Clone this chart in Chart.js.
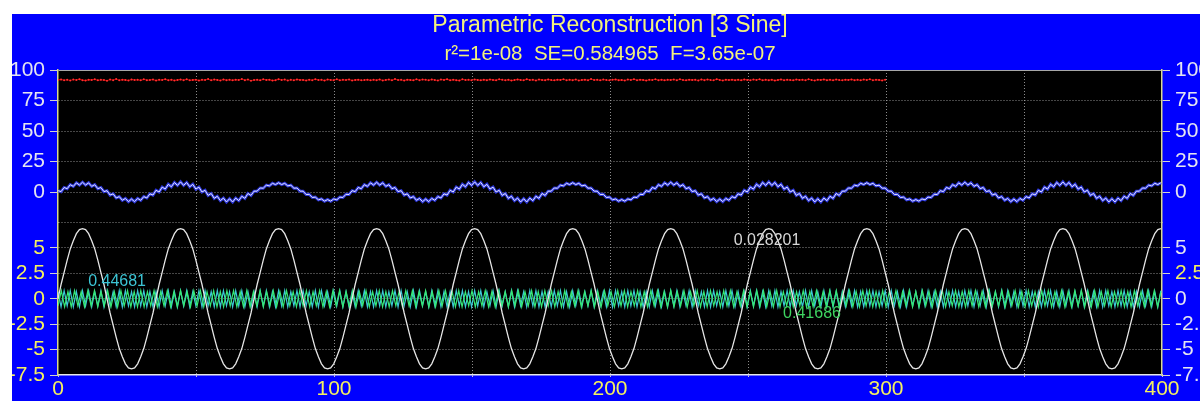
<!DOCTYPE html>
<html>
<head>
<meta charset="utf-8">
<script src="https://cdn.jsdelivr.net/npm/chart.js@4.4.1/dist/chart.umd.min.js"></script>
<style>
  html, body { margin: 0; padding: 0; background: #fff; }
  #panel { position: absolute; left: 12px; top: 14px; width: 1188px; height: 387px; background: #0000ff; }
  canvas { display: block; }
</style>
</head>
<body>
<div id="panel"><canvas id="recon" width="1188" height="387"></canvas></div>
<script>
// sample positions (x) for the slow series and the cyan component
const tA = [
  0,1.11,2.22,3.33,4.44,5.55,6.66,7.77,8.88,9.99,
  11.1,12.21,13.32,14.43,15.54,16.65,17.76,18.87,19.98,21.09,
  22.2,23.31,24.42,25.53,26.64,27.75,28.86,29.97,31.08,32.19,
  33.3,34.41,35.52,36.63,37.74,38.85,39.96,41.07,42.18,43.29,
  44.4,45.51,46.62,47.73,48.84,49.95,51.06,52.17,53.28,54.39,
  55.5,56.61,57.72,58.83,59.94,61.05,62.16,63.27,64.38,65.49,
  66.6,67.71,68.82,69.93,71.04,72.15,73.26,74.37,75.48,76.59,
  77.7,78.81,79.92,81.03,82.14,83.25,84.36,85.47,86.58,87.69,
  88.8,89.91,91.02,92.13,93.24,94.35,95.46,96.57,97.68,98.79,
  99.9,101.01,102.12,103.23,104.34,105.45,106.56,107.67,108.78,109.89,
  111,112.11,113.22,114.33,115.44,116.55,117.66,118.77,119.88,120.99,
  122.1,123.21,124.32,125.43,126.54,127.65,128.76,129.87,130.98,132.09,
  133.2,134.31,135.42,136.53,137.64,138.75,139.86,140.97,142.08,143.19,
  144.3,145.41,146.52,147.63,148.74,149.85,150.96,152.07,153.18,154.29,
  155.4,156.51,157.62,158.73,159.84,160.95,162.06,163.17,164.28,165.39,
  166.5,167.61,168.72,169.83,170.94,172.05,173.16,174.27,175.38,176.49,
  177.6,178.71,179.82,180.93,182.04,183.15,184.26,185.37,186.48,187.59,
  188.7,189.81,190.92,192.03,193.14,194.25,195.36,196.47,197.58,198.69,
  199.8,200.91,202.02,203.13,204.24,205.35,206.46,207.57,208.68,209.79,
  210.9,212.01,213.12,214.23,215.34,216.45,217.56,218.67,219.78,220.89,
  222,223.11,224.22,225.33,226.44,227.55,228.66,229.77,230.88,231.99,
  233.1,234.21,235.32,236.43,237.54,238.65,239.76,240.87,241.98,243.09,
  244.2,245.31,246.42,247.53,248.64,249.75,250.86,251.97,253.08,254.19,
  255.3,256.41,257.52,258.63,259.74,260.85,261.96,263.07,264.18,265.29,
  266.4,267.51,268.62,269.73,270.84,271.95,273.06,274.17,275.28,276.39,
  277.5,278.61,279.72,280.83,281.94,283.05,284.16,285.27,286.38,287.49,
  288.6,289.71,290.82,291.93,293.04,294.15,295.26,296.37,297.48,298.59,
  299.7,300.81,301.92,303.03,304.14,305.25,306.36,307.47,308.58,309.69,
  310.8,311.91,313.02,314.13,315.24,316.35,317.46,318.57,319.68,320.79,
  321.9,323.01,324.12,325.23,326.34,327.45,328.56,329.67,330.78,331.89,
  333,334.11,335.22,336.33,337.44,338.55,339.66,340.77,341.88,342.99,
  344.1,345.21,346.32,347.43,348.54,349.65,350.76,351.87,352.98,354.09,
  355.2,356.31,357.42,358.53,359.64,360.75,361.86,362.97,364.08,365.19,
  366.3,367.41,368.52,369.63,370.74,371.85,372.96,374.07,375.18,376.29,
  377.4,378.51,379.62,380.73,381.84,382.95,384.06,385.17,386.28,387.39,
  388.5,389.61,390.72,391.83,392.94,394.05,395.16,396.27,397.38,398.49,
  399.6
];

// sample positions (x) for the green component
const tB = [
  0,1.2,2.4,3.6,4.8,6,7.2,8.4,9.6,10.8,
  12,13.2,14.4,15.6,16.8,18,19.2,20.4,21.6,22.8,
  24,25.2,26.4,27.6,28.8,30,31.2,32.4,33.6,34.8,
  36,37.2,38.4,39.6,40.8,42,43.2,44.4,45.6,46.8,
  48,49.2,50.4,51.6,52.8,54,55.2,56.4,57.6,58.8,
  60,61.2,62.4,63.6,64.8,66,67.2,68.4,69.6,70.8,
  72,73.2,74.4,75.6,76.8,78,79.2,80.4,81.6,82.8,
  84,85.2,86.4,87.6,88.8,90,91.2,92.4,93.6,94.8,
  96,97.2,98.4,99.6,100.8,102,103.2,104.4,105.6,106.8,
  108,109.2,110.4,111.6,112.8,114,115.2,116.4,117.6,118.8,
  120,121.2,122.4,123.6,124.8,126,127.2,128.4,129.6,130.8,
  132,133.2,134.4,135.6,136.8,138,139.2,140.4,141.6,142.8,
  144,145.2,146.4,147.6,148.8,150,151.2,152.4,153.6,154.8,
  156,157.2,158.4,159.6,160.8,162,163.2,164.4,165.6,166.8,
  168,169.2,170.4,171.6,172.8,174,175.2,176.4,177.6,178.8,
  180,181.2,182.4,183.6,184.8,186,187.2,188.4,189.6,190.8,
  192,193.2,194.4,195.6,196.8,198,199.2,200.4,201.6,202.8,
  204,205.2,206.4,207.6,208.8,210,211.2,212.4,213.6,214.8,
  216,217.2,218.4,219.6,220.8,222,223.2,224.4,225.6,226.8,
  228,229.2,230.4,231.6,232.8,234,235.2,236.4,237.6,238.8,
  240,241.2,242.4,243.6,244.8,246,247.2,248.4,249.6,250.8,
  252,253.2,254.4,255.6,256.8,258,259.2,260.4,261.6,262.8,
  264,265.2,266.4,267.6,268.8,270,271.2,272.4,273.6,274.8,
  276,277.2,278.4,279.6,280.8,282,283.2,284.4,285.6,286.8,
  288,289.2,290.4,291.6,292.8,294,295.2,296.4,297.6,298.8,
  300,301.2,302.4,303.6,304.8,306,307.2,308.4,309.6,310.8,
  312,313.2,314.4,315.6,316.8,318,319.2,320.4,321.6,322.8,
  324,325.2,326.4,327.6,328.8,330,331.2,332.4,333.6,334.8,
  336,337.2,338.4,339.6,340.8,342,343.2,344.4,345.6,346.8,
  348,349.2,350.4,351.6,352.8,354,355.2,356.4,357.6,358.8,
  360,361.2,362.4,363.6,364.8,366,367.2,368.4,369.6,370.8,
  372,373.2,374.4,375.6,376.8,378,379.2,380.4,381.6,382.8,
  384,385.2,386.4,387.6,388.8,390,391.2,392.4,393.6,394.8,
  396,397.2,398.4,399.6
];

// red trace (upper panel), stops near x=300
const fitPct = [
  91.9,92.3,91.6,92.0,91.4,92.2,91.8,92.5,91.7,91.3,92.1,91.9,92.4,91.5,92.0,91.8,91.2,92.2,91.7,92.6,
  91.6,92.1,91.9,91.4,92.3,91.8,92.0,91.5,92.4,91.7,91.9,92.2,91.3,92.0,91.8,92.5,91.6,92.1,91.4,91.9,
  92.2,91.7,92.4,91.5,91.9,92.1,91.3,92.0,91.8,92.6,91.6,92.2,91.9,91.4,92.3,91.7,92.0,91.5,92.1,91.8,
  92.6,91.7,92.2,91.2,91.8,92.0,91.5,92.4,91.9,92.1,91.3,91.7,92.5,91.8,92.2,91.4,92.0,91.6,92.3,91.9,
  91.9,91.4,92.1,91.6,92.5,91.8,92.0,91.3,92.2,91.9,91.7,92.4,91.5,92.0,91.8,92.3,91.4,91.9,92.1,91.6,
  91.8,92.1,91.5,92.0,91.7,92.3,91.4,91.9,92.2,91.6,92.6,91.8,92.0,91.3,92.1,91.9,91.5,92.4,91.7,92.2,
  92.0,91.6,92.3,91.8,91.4,92.2,91.9,92.5,91.5,92.1,91.7,91.3,92.4,91.8,92.0,91.6,92.2,91.9,91.5,92.1,
  91.7,92.2,91.9,91.5,92.4,92.0,91.6,92.1,91.3,91.8,92.3,91.9,91.6,92.5,91.8,92.0,91.4,92.2,91.9,91.7,
  92.3,91.8,91.5,92.1,91.9,92.4,91.6,92.0,91.7,92.2,91.4,91.9,92.1,91.6,92.6,91.8,92.0,91.5,92.2,91.8,
  91.6,92.0,92.3,91.7,91.9,91.4,92.2,91.8,92.5,91.6,92.1,91.9,91.3,92.0,91.8,92.4,91.7,92.1,91.5,92.0,
  91.9,92.2,91.6,92.4,91.8,91.5,92.1,91.9,92.0,91.4,92.3,91.7,92.2,91.8,91.6,92.5,91.9,91.4,92.1,91.8,
  92.1,91.7,92.0,91.5,92.3,91.9,91.6,92.2,91.8,92.4,91.5,92.0,91.7,92.1,91.3,91.9,92.3,91.6,92.0,91.8,
  91.5,92.2,91.9,92.0,91.6,92.4,91.8,91.4,92.1,91.9,92.3,91.7,92.0,91.5,92.2,91.8,91.6,92.1,91.9,92.3,
  91.7,92.0,91.5,92.2,91.8,92.4,91.6,92.0,91.9,91.4,92.1
];

// blue trace: the combined signal (upper panel)
const signal = [
  1.1,0.3,3.7,2.7,6.0,4.6,7.5,5.7,8.0,5.7,7.5,4.6,6.0,2.7,3.7,0.3,1.1,-2.5,-1.5,-4.9,-3.8,-6.8,-5.3,-7.9,-5.8,-7.9,-5.3,-6.8,-3.8,-4.9,-1.5,-2.5,
  1.4,0.0,4.0,2.4,6.3,4.3,7.8,5.4,8.3,5.4,7.8,4.3,6.3,2.4,4.0,0.0,1.4,-2.8,-1.2,-5.2,-3.5,-7.1,-5.0,-8.2,-5.5,-8.2,-5.0,-7.1,-3.5,-5.2,-1.2,-2.8,
  0.7,0.7,3.3,3.1,5.6,5.0,7.1,6.1,7.6,6.1,7.1,5.0,5.6,3.1,3.3,0.7,0.7,-2.1,-1.9,-4.5,-4.2,-6.4,-5.7,-7.5,-6.2,-7.5,-5.7,-6.4,-4.2,-4.5,-1.9,-2.1,
  1.1,0.3,3.7,2.7,6.0,4.6,7.5,5.7,8.0,5.7,7.5,4.6,6.0,2.7,3.7,0.3,1.1,-2.5,-1.5,-4.9,-3.8,-6.8,-5.3,-7.9,-5.8,-7.9,-5.3,-6.8,-3.8,-4.9,-1.5,-2.5,
  1.4,0.0,4.0,2.4,6.3,4.3,7.8,5.4,8.3,5.4,7.8,4.3,6.3,2.4,4.0,0.0,1.4,-2.8,-1.2,-5.2,-3.5,-7.1,-5.0,-8.2,-5.5,-8.2,-5.0,-7.1,-3.5,-5.2,-1.2,-2.8,
  0.7,0.7,3.3,3.1,5.6,5.0,7.1,6.1,7.6,6.1,7.1,5.0,5.6,3.1,3.3,0.7,0.7,-2.1,-1.9,-4.5,-4.2,-6.4,-5.7,-7.5,-6.2,-7.5,-5.7,-6.4,-4.2,-4.5,-1.9,-2.1,
  1.1,0.3,3.7,2.7,6.0,4.6,7.5,5.7,8.0,5.7,7.5,4.6,6.0,2.7,3.7,0.3,1.1,-2.5,-1.5,-4.9,-3.8,-6.8,-5.3,-7.9,-5.8,-7.9,-5.3,-6.8,-3.8,-4.9,-1.5,-2.5,
  1.4,0.0,4.0,2.4,6.3,4.3,7.8,5.4,8.3,5.4,7.8,4.3,6.3,2.4,4.0,0.0,1.4,-2.8,-1.2,-5.2,-3.5,-7.1,-5.0,-8.2,-5.5,-8.2,-5.0,-7.1,-3.5,-5.2,-1.2,-2.8,
  0.7,0.7,3.3,3.1,5.6,5.0,7.1,6.1,7.6,6.1,7.1,5.0,5.6,3.1,3.3,0.7,0.7,-2.1,-1.9,-4.5,-4.2,-6.4,-5.7,-7.5,-6.2,-7.5,-5.7,-6.4,-4.2,-4.5,-1.9,-2.1,
  1.1,0.3,3.7,2.7,6.0,4.6,7.5,5.7,8.0,5.7,7.5,4.6,6.0,2.7,3.7,0.3,1.1,-2.5,-1.5,-4.9,-3.8,-6.8,-5.3,-7.9,-5.8,-7.9,-5.3,-6.8,-3.8,-4.9,-1.5,-2.5,
  1.4,0.0,4.0,2.4,6.3,4.3,7.8,5.4,8.3,5.4,7.8,4.3,6.3,2.4,4.0,0.0,1.4,-2.8,-1.2,-5.2,-3.5,-7.1,-5.0,-8.2,-5.5,-8.2,-5.0,-7.1,-3.5,-5.2,-1.2,-2.8,
  0.7,0.7,3.3,3.1,5.6,5.0,7.1,6.1,7.6
];

// white trace: slow sine component (lower panel)
const sine1 = [
  0,1.4,2.6,3.8,4.9,5.7,6.4,6.8,6.9,6.8,6.4,5.7,4.9,3.8,2.6,1.4,0,-1.4,-2.6,-3.8,-4.9,-5.7,-6.4,-6.8,-6.9,-6.8,-6.4,-5.7,-4.9,-3.8,-2.6,-1.4,
  0,1.4,2.6,3.8,4.9,5.7,6.4,6.8,6.9,6.8,6.4,5.7,4.9,3.8,2.6,1.4,0,-1.4,-2.6,-3.8,-4.9,-5.7,-6.4,-6.8,-6.9,-6.8,-6.4,-5.7,-4.9,-3.8,-2.6,-1.4,
  0,1.4,2.6,3.8,4.9,5.7,6.4,6.8,6.9,6.8,6.4,5.7,4.9,3.8,2.6,1.4,0,-1.4,-2.6,-3.8,-4.9,-5.7,-6.4,-6.8,-6.9,-6.8,-6.4,-5.7,-4.9,-3.8,-2.6,-1.4,
  0,1.4,2.6,3.8,4.9,5.7,6.4,6.8,6.9,6.8,6.4,5.7,4.9,3.8,2.6,1.4,0,-1.4,-2.6,-3.8,-4.9,-5.7,-6.4,-6.8,-6.9,-6.8,-6.4,-5.7,-4.9,-3.8,-2.6,-1.4,
  0,1.4,2.6,3.8,4.9,5.7,6.4,6.8,6.9,6.8,6.4,5.7,4.9,3.8,2.6,1.4,0,-1.4,-2.6,-3.8,-4.9,-5.7,-6.4,-6.8,-6.9,-6.8,-6.4,-5.7,-4.9,-3.8,-2.6,-1.4,
  0,1.4,2.6,3.8,4.9,5.7,6.4,6.8,6.9,6.8,6.4,5.7,4.9,3.8,2.6,1.4,0,-1.4,-2.6,-3.8,-4.9,-5.7,-6.4,-6.8,-6.9,-6.8,-6.4,-5.7,-4.9,-3.8,-2.6,-1.4,
  0,1.4,2.6,3.8,4.9,5.7,6.4,6.8,6.9,6.8,6.4,5.7,4.9,3.8,2.6,1.4,0,-1.4,-2.6,-3.8,-4.9,-5.7,-6.4,-6.8,-6.9,-6.8,-6.4,-5.7,-4.9,-3.8,-2.6,-1.4,
  0,1.4,2.6,3.8,4.9,5.7,6.4,6.8,6.9,6.8,6.4,5.7,4.9,3.8,2.6,1.4,0,-1.4,-2.6,-3.8,-4.9,-5.7,-6.4,-6.8,-6.9,-6.8,-6.4,-5.7,-4.9,-3.8,-2.6,-1.4,
  0,1.4,2.6,3.8,4.9,5.7,6.4,6.8,6.9,6.8,6.4,5.7,4.9,3.8,2.6,1.4,0,-1.4,-2.6,-3.8,-4.9,-5.7,-6.4,-6.8,-6.9,-6.8,-6.4,-5.7,-4.9,-3.8,-2.6,-1.4,
  0,1.4,2.6,3.8,4.9,5.7,6.4,6.8,6.9,6.8,6.4,5.7,4.9,3.8,2.6,1.4,0,-1.4,-2.6,-3.8,-4.9,-5.7,-6.4,-6.8,-6.9,-6.8,-6.4,-5.7,-4.9,-3.8,-2.6,-1.4,
  0,1.4,2.6,3.8,4.9,5.7,6.4,6.8,6.9,6.8,6.4,5.7,4.9,3.8,2.6,1.4,0,-1.4,-2.6,-3.8,-4.9,-5.7,-6.4,-6.8,-6.9,-6.8,-6.4,-5.7,-4.9,-3.8,-2.6,-1.4,
  0,1.4,2.6,3.8,4.9,5.7,6.4,6.8,6.9
];

// cyan trace: fast component on tA
const sine2 = [
  0.7,-0.8,0.8,-0.7,0.8,-0.8,0.7,-0.8,0.8,-0.7,0.8,-0.8,0.7,-0.7,0.8,-0.8,
  0.8,-0.7,0.7,-0.8,0.8,-0.8,0.8,-0.7,0.7,-0.8,0.8,-0.7,0.8,-0.8,0.7,-0.8,
  0.7,-0.8,0.8,-0.7,0.8,-0.8,0.7,-0.8,0.8,-0.7,0.8,-0.8,0.7,-0.7,0.8,-0.8,
  0.8,-0.7,0.7,-0.8,0.8,-0.8,0.8,-0.7,0.7,-0.8,0.8,-0.7,0.8,-0.8,0.7,-0.8,
  0.7,-0.8,0.8,-0.7,0.8,-0.8,0.7,-0.8,0.8,-0.7,0.8,-0.8,0.7,-0.7,0.8,-0.8,
  0.8,-0.7,0.7,-0.8,0.8,-0.8,0.8,-0.7,0.7,-0.8,0.8,-0.7,0.8,-0.8,0.7,-0.8,
  0.7,-0.8,0.8,-0.7,0.8,-0.8,0.7,-0.8,0.8,-0.7,0.8,-0.8,0.7,-0.7,0.8,-0.8,
  0.8,-0.7,0.7,-0.8,0.8,-0.8,0.8,-0.7,0.7,-0.8,0.8,-0.7,0.8,-0.8,0.7,-0.8,
  0.7,-0.8,0.8,-0.7,0.8,-0.8,0.7,-0.8,0.8,-0.7,0.8,-0.8,0.7,-0.7,0.8,-0.8,
  0.8,-0.7,0.7,-0.8,0.8,-0.8,0.8,-0.7,0.7,-0.8,0.8,-0.7,0.8,-0.8,0.7,-0.8,
  0.7,-0.8,0.8,-0.7,0.8,-0.8,0.7,-0.8,0.8,-0.7,0.8,-0.8,0.7,-0.7,0.8,-0.8,
  0.8,-0.7,0.7,-0.8,0.8,-0.8,0.8,-0.7,0.7,-0.8,0.8,-0.7,0.8,-0.8,0.7,-0.8,
  0.7,-0.8,0.8,-0.7,0.8,-0.8,0.7,-0.8,0.8,-0.7,0.8,-0.8,0.7,-0.7,0.8,-0.8,
  0.8,-0.7,0.7,-0.8,0.8,-0.8,0.8,-0.7,0.7,-0.8,0.8,-0.7,0.8,-0.8,0.7,-0.8,
  0.7,-0.8,0.8,-0.7,0.8,-0.8,0.7,-0.8,0.8,-0.7,0.8,-0.8,0.7,-0.7,0.8,-0.8,
  0.8,-0.7,0.7,-0.8,0.8,-0.8,0.8,-0.7,0.7,-0.8,0.8,-0.7,0.8,-0.8,0.7,-0.8,
  0.7,-0.8,0.8,-0.7,0.8,-0.8,0.7,-0.8,0.8,-0.7,0.8,-0.8,0.7,-0.7,0.8,-0.8,
  0.8,-0.7,0.7,-0.8,0.8,-0.8,0.8,-0.7,0.7,-0.8,0.8,-0.7,0.8,-0.8,0.7,-0.8,
  0.7,-0.8,0.8,-0.7,0.8,-0.8,0.7,-0.8,0.8,-0.7,0.8,-0.8,0.7,-0.7,0.8,-0.8,
  0.8,-0.7,0.7,-0.8,0.8,-0.8,0.8,-0.7,0.7,-0.8,0.8,-0.7,0.8,-0.8,0.7,-0.8,
  0.7,-0.8,0.8,-0.7,0.8,-0.8,0.7,-0.8,0.8,-0.7,0.8,-0.8,0.7,-0.7,0.8,-0.8,
  0.8,-0.7,0.7,-0.8,0.8,-0.8,0.8,-0.7,0.7,-0.8,0.8,-0.7,0.8,-0.8,0.7,-0.8,
  0.7,-0.8,0.8,-0.7,0.8,-0.8,0.7,-0.8,0.8
];

// green trace: fast component on tB
const sine3 = [
  -0.7,0.8,-0.8,0.7,-0.8,0.8,-0.7,0.7,-0.8,0.8,-0.7,0.8,-0.8,0.7,-0.7,0.8,
  -0.8,0.7,-0.8,0.8,-0.7,0.8,-0.8,0.7,-0.8,0.8,-0.8,0.7,-0.7,0.8,-0.8,0.7,
  -0.7,0.8,-0.8,0.7,-0.8,0.8,-0.7,0.7,-0.8,0.8,-0.7,0.8,-0.8,0.7,-0.7,0.8,
  -0.8,0.7,-0.8,0.8,-0.7,0.8,-0.8,0.7,-0.8,0.8,-0.8,0.7,-0.7,0.8,-0.8,0.7,
  -0.7,0.8,-0.8,0.7,-0.8,0.8,-0.7,0.7,-0.8,0.8,-0.7,0.8,-0.8,0.7,-0.7,0.8,
  -0.8,0.7,-0.8,0.8,-0.7,0.8,-0.8,0.7,-0.8,0.8,-0.8,0.7,-0.7,0.8,-0.8,0.7,
  -0.7,0.8,-0.8,0.7,-0.8,0.8,-0.7,0.7,-0.8,0.8,-0.7,0.8,-0.8,0.7,-0.7,0.8,
  -0.8,0.7,-0.8,0.8,-0.7,0.8,-0.8,0.7,-0.8,0.8,-0.8,0.7,-0.7,0.8,-0.8,0.7,
  -0.7,0.8,-0.8,0.7,-0.8,0.8,-0.7,0.7,-0.8,0.8,-0.7,0.8,-0.8,0.7,-0.7,0.8,
  -0.8,0.7,-0.8,0.8,-0.7,0.8,-0.8,0.7,-0.8,0.8,-0.8,0.7,-0.7,0.8,-0.8,0.7,
  -0.7,0.8,-0.8,0.7,-0.8,0.8,-0.7,0.7,-0.8,0.8,-0.7,0.8,-0.8,0.7,-0.7,0.8,
  -0.8,0.7,-0.8,0.8,-0.7,0.8,-0.8,0.7,-0.8,0.8,-0.8,0.7,-0.7,0.8,-0.8,0.7,
  -0.7,0.8,-0.8,0.7,-0.8,0.8,-0.7,0.7,-0.8,0.8,-0.7,0.8,-0.8,0.7,-0.7,0.8,
  -0.8,0.7,-0.8,0.8,-0.7,0.8,-0.8,0.7,-0.8,0.8,-0.8,0.7,-0.7,0.8,-0.8,0.7,
  -0.7,0.8,-0.8,0.7,-0.8,0.8,-0.7,0.7,-0.8,0.8,-0.7,0.8,-0.8,0.7,-0.7,0.8,
  -0.8,0.7,-0.8,0.8,-0.7,0.8,-0.8,0.7,-0.8,0.8,-0.8,0.7,-0.7,0.8,-0.8,0.7,
  -0.7,0.8,-0.8,0.7,-0.8,0.8,-0.7,0.7,-0.8,0.8,-0.7,0.8,-0.8,0.7,-0.7,0.8,
  -0.8,0.7,-0.8,0.8,-0.7,0.8,-0.8,0.7,-0.8,0.8,-0.8,0.7,-0.7,0.8,-0.8,0.7,
  -0.7,0.8,-0.8,0.7,-0.8,0.8,-0.7,0.7,-0.8,0.8,-0.7,0.8,-0.8,0.7,-0.7,0.8,
  -0.8,0.7,-0.8,0.8,-0.7,0.8,-0.8,0.7,-0.8,0.8,-0.8,0.7,-0.7,0.8,-0.8,0.7,
  -0.7,0.8,-0.8,0.7,-0.8,0.8,-0.7,0.7,-0.8,0.8,-0.7,0.8,-0.8,0.7
];

// fitted frequencies printed next to each component
const noteText = ['0.44681', '0.028201', '0.41686'];
const noteX = [21.4, 256.9, 273.2];
const noteY = [1.7, 5.75, -1.5];

const fontFamily = '"Liberation Sans", Arial, sans-serif';
const yellow = '#f4f060';
const paleWhite = '#e4e4f0';
const dotted = 'rgba(175,175,175,0.8)';
const clear = 'rgba(0,0,0,0)';

const pts = (xs, ys) => ys.map((y, i) => ({ x: xs[i], y: y }));

const plotBackground = {
  id: 'plotBackground',
  beforeDraw(chart) {
    const a = chart.chartArea;
    const ctx = chart.ctx;
    ctx.save();
    ctx.fillStyle = '#000';
    ctx.fillRect(a.left, a.top, a.right - a.left, a.bottom - a.top);
    ctx.restore();
  }
};

const peakNotes = {
  id: 'peakNotes',
  afterDatasetsDraw(chart) {
    const colors = ['#3cc4d4', '#d8d8d8', '#3ed460'];
    const ctx = chart.ctx;
    const xs = chart.scales.x;
    const ys = chart.scales.yL;
    ctx.save();
    ctx.font = '16px ' + fontFamily;
    ctx.textAlign = 'center';
    ctx.textBaseline = 'middle';
    noteText.forEach((t, i) => {
      ctx.fillStyle = colors[i];
      ctx.fillText(t, xs.getPixelForValue(noteX[i]), ys.getPixelForValue(noteY[i]));
    });
    ctx.restore();
  }
};

const tickFont = { family: fontFamily, size: 21 };

function leftAxis(min, max, step, hide, colorFn, lineFn) {
  return {
    type: 'linear', position: 'left', stack: 'left', stackWeight: 1,
    min: min, max: max,
    afterFit: s => { s.width = 46; },
    ticks: { stepSize: step, autoSkip: false, padding: 5, font: tickFont, color: colorFn,
      callback: v => v === hide ? '' : String(v) },
    grid: { color: lineFn, tickLength: 8,
      tickColor: c => (c.tick && c.tick.value === hide) ? clear : '#d0d0d0' },
    border: { color: '#d8d890', width: 1.5,
      dash: c => (c.tick && c.tick.value === 100) ? [] : [1, 2] }
  };
}

function rightAxis(min, max, step, hide, colorFn) {
  return {
    type: 'linear', position: 'right', stack: 'right', stackWeight: 1,
    min: min, max: max,
    afterFit: s => { s.width = 38; },
    ticks: { stepSize: step, autoSkip: false, padding: 5, font: tickFont, color: colorFn,
      callback: v => v === hide ? '' : String(v) },
    grid: { drawOnChartArea: false, tickLength: 8,
      tickColor: c => (c.tick && c.tick.value === hide) ? clear : '#d0d0d0' },
    border: { color: '#d8d890', width: 1.5 }
  };
}

new Chart(document.getElementById('recon'), {
  type: 'line',
  data: {
    datasets: [
      { data: pts(tA, signal), yAxisID: 'yU', borderColor: '#e4e6ff', borderWidth: 1, pointRadius: 0 },
      { data: pts(tA, signal), yAxisID: 'yU', borderColor: '#2c36d8', borderWidth: 3, pointRadius: 0 },
      { data: pts(tA, fitPct), yAxisID: 'yU', borderColor: '#b80000', borderWidth: 1.2,
        pointRadius: 1, pointBorderWidth: 0, pointBackgroundColor: '#ff3030' },
      { data: pts(tA, sine1), yAxisID: 'yL', borderColor: '#e6e6e6', borderWidth: 1.3, pointRadius: 0 },
      { data: pts(tB, sine3), yAxisID: 'yL', borderColor: '#36e874', borderWidth: 1.2, pointRadius: 0 },
      { data: pts(tA, sine2), yAxisID: 'yL', borderColor: '#3cc8d8', borderWidth: 1.2, pointRadius: 0 }
    ]
  },
  options: {
    responsive: false,
    animation: false,
    devicePixelRatio: 1,
    layout: { padding: 0 },
    plugins: {
      legend: { display: false },
      tooltip: { enabled: false },
      title: {
        display: true, fullSize: false,
        text: 'Parametric Reconstruction [3 Sine]',
        color: '#f2f27c',
        font: { family: fontFamily, size: 23, weight: 'normal', lineHeight: 1 },
        padding: { top: 0, bottom: 0 }
      },
      subtitle: {
        display: true, fullSize: false,
        text: 'r²=1e-08  SE=0.584965  F=3.65e-07',
        color: '#f2f27c',
        font: { family: fontFamily, size: 20.5, weight: 'normal', lineHeight: 1 },
        padding: { top: 7, bottom: 5.5 }
      }
    },
    scales: {
      x: {
        type: 'linear', min: 0, max: 400,
        afterFit: s => { s.height = 26; },
        ticks: { stepSize: 50, autoSkip: false, maxRotation: 0, padding: 0, font: tickFont, color: yellow,
          callback: v => v % 100 === 0 ? String(v) : '' },
        grid: { color: c => (c.tick && (c.tick.value === 0 || c.tick.value === 400)) ? clear : dotted,
          tickLength: 2, tickColor: '#c8c8c8' },
        border: { color: '#e8e8e8', width: 1.5, dash: [1, 2] }
      },
      yL: leftAxis(-7.5, 7.5, 2.5, 7.5, yellow,
        c => (c.tick && (c.tick.value === 7.5 || c.tick.value === -7.5)) ? clear : dotted),
      yU: leftAxis(-25, 100, 25, -25, paleWhite,
        c => (c.tick && c.tick.value === 100) ? '#a8a8a8' : dotted),
      yU2: rightAxis(-25, 100, 25, -25, paleWhite),
      yL2: rightAxis(-7.5, 7.5, 2.5, 7.5, c => (c.tick && c.tick.value === 2.5) ? yellow : paleWhite)
    }
  },
  plugins: [plotBackground, peakNotes]
});
</script>
</body>
</html>
